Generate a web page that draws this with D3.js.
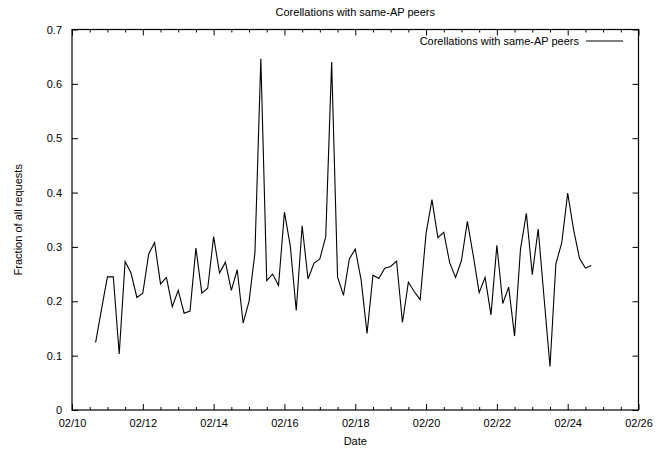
<!DOCTYPE html>
<html>
<head>
<meta charset="utf-8">
<script src="https://cdn.jsdelivr.net/npm/d3@7"></script>
<style>
  html, body { margin: 0; padding: 0; background: #fff; }
  text { font-family: "Liberation Sans", Arial, sans-serif; font-size: 11px; fill: #000; }
</style>
</head>
<body>
<svg id="chart" width="667" height="449"></svg>
<script>
// ---- data ----
const chartTitle = "Corellations with same-AP peers";
const seriesName = "Corellations with same-AP peers";
const startTime = new Date(2009, 1, 10, 16, 0, 0); // first sample 02/10 16:00
const stepHours = 4;
const values = [
  0.124, 0.185, 0.245, 0.245, 0.103, 0.273, 0.252, 0.207, 0.215, 0.287,
  0.308, 0.232, 0.244, 0.190, 0.220, 0.178, 0.182, 0.298, 0.215, 0.224,
  0.319, 0.252, 0.272, 0.220, 0.258, 0.160, 0.200, 0.289, 0.646, 0.238,
  0.250, 0.229, 0.364, 0.301, 0.183, 0.339, 0.241, 0.270, 0.278, 0.319,
  0.640, 0.245, 0.211, 0.278, 0.296, 0.239, 0.141, 0.248, 0.242, 0.261,
  0.264, 0.274, 0.161, 0.235, 0.218, 0.203, 0.325, 0.387, 0.317, 0.327,
  0.271, 0.244, 0.275, 0.347, 0.284, 0.216, 0.244, 0.175, 0.303, 0.196,
  0.226, 0.136, 0.296, 0.362, 0.249, 0.333, 0.206, 0.080, 0.269, 0.308,
  0.399, 0.332, 0.279, 0.261, 0.266
];
const yTicks = [0, 0.1, 0.2, 0.3, 0.4, 0.5, 0.6, 0.7];
const xTickDays = [10, 12, 14, 16, 18, 20, 22, 24, 26];
const xLabel = "Date";
const yLabel = "Fraction of all requests";

// ---- build ----
const data = values.map((v, i) => ({
  t: new Date(startTime.getTime() + i * stepHours * 3600 * 1000),
  v
}));

const svg = d3.select("#chart");
const margin = { left: 72, right: 28.5, top: 29.5, bottom: 39 };
const W = 667, H = 449;
const x0 = margin.left, x1 = W - margin.right;
const y0 = H - margin.bottom, y1 = margin.top;

const x = d3.scaleTime()
  .domain([new Date(2009, 1, 10), new Date(2009, 1, 26)])
  .range([x0, x1]);
const y = d3.scaleLinear().domain([0, 0.7]).range([y0, y1]);

const fmtX = d3.timeFormat("%m/%d");
const majorX = xTickDays.map(d => new Date(2009, 1, d));
const minorX = d3.range(10, 26.01, 0.5).map(d => new Date(new Date(2009, 1, 10).getTime() + (d - 10) * 86400000))
  .filter(d => !majorX.some(m => +m === +d));

const g = svg.append("g");

const axBottom = g.append("g").attr("transform", `translate(0,${y0})`)
  .call(d3.axisBottom(x).tickValues(majorX).tickFormat(fmtX).tickSize(-6).tickPadding(9));
const axBottomMinor = g.append("g").attr("transform", `translate(0,${y0})`)
  .call(d3.axisBottom(x).tickValues(minorX).tickFormat("").tickSize(-3));
const axTop = g.append("g").attr("transform", `translate(0,${y1})`)
  .call(d3.axisTop(x).tickValues(majorX).tickFormat("").tickSize(-6));
const axTopMinor = g.append("g").attr("transform", `translate(0,${y1})`)
  .call(d3.axisTop(x).tickValues(minorX).tickFormat("").tickSize(-3));
const axLeft = g.append("g").attr("transform", `translate(${x0},0)`)
  .call(d3.axisLeft(y).tickValues(yTicks).tickFormat(d => d === 0 ? "0" : d3.format(".1f")(d)).tickSize(-6).tickPadding(10));
const axRight = g.append("g").attr("transform", `translate(${x1},0)`)
  .call(d3.axisRight(y).tickValues(yTicks).tickFormat("").tickSize(-6));

[axBottom, axBottomMinor, axTop, axTopMinor, axLeft, axRight].forEach(a => {
  a.select(".domain").remove();
  a.selectAll("line").attr("stroke", "#000").attr("stroke-width", 1);
  a.selectAll("text").style("font-family", "'Liberation Sans', Arial, sans-serif").style("font-size", "11px").attr("fill", "#000");
});

// frame
g.append("rect")
  .attr("x", x0).attr("y", y1)
  .attr("width", x1 - x0).attr("height", y0 - y1)
  .attr("fill", "none").attr("stroke", "#000").attr("stroke-width", 1.2);

// line
const line = d3.line().x(d => x(d.t)).y(d => y(d.v));
g.append("path").datum(data)
  .attr("d", line)
  .attr("fill", "none")
  .attr("stroke", "#000")
  .attr("stroke-width", 1.1)
  .attr("stroke-linejoin", "miter");

// title
svg.append("text").attr("x", (x0 + x1) / 2).attr("y", 16)
  .attr("text-anchor", "middle").text(chartTitle);

// axis labels
svg.append("text").attr("x", (x0 + x1) / 2).attr("y", 445)
  .attr("text-anchor", "middle").text(xLabel);
svg.append("text")
  .attr("transform", `translate(22,${(y0 + y1) / 2}) rotate(-90)`)
  .attr("text-anchor", "middle").text(yLabel);

// legend
const legY = 41;
svg.append("text").attr("x", 579).attr("y", legY + 4)
  .attr("text-anchor", "end").text(seriesName);
svg.append("line").attr("x1", 586).attr("x2", 623)
  .attr("y1", legY).attr("y2", legY)
  .attr("stroke", "#000").attr("stroke-width", 1.1);
</script>
</body>
</html>
